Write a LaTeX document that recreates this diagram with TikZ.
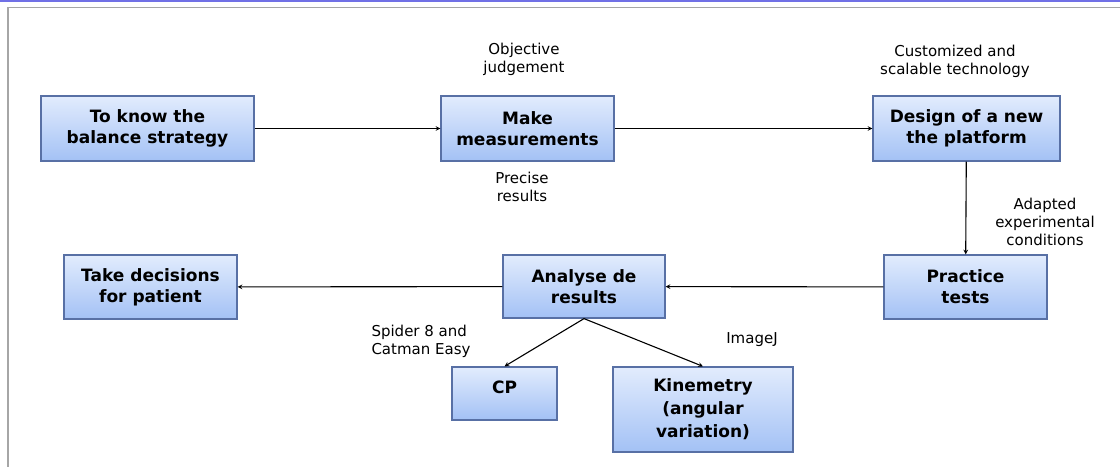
\documentclass[tikz,border=0pt]{standalone}
\usepackage{fontspec}
\setmainfont{DejaVu Sans}
\definecolor{boxtop}{RGB}{226,236,253}
\definecolor{boxbottom}{RGB}{163,193,245}
\definecolor{boxline}{RGB}{88,112,165}
\definecolor{topband}{RGB}{112,112,230}
\tikzset{
    blockbox/.style={draw=boxline, line width=1.2pt, top color=boxtop, bottom color=boxbottom,
        align=center, font=\fontsize{17}{21}\selectfont\bfseries, inner sep=2pt},
    notetext/.style={align=center, font=\fontsize{15}{18}\selectfont},
    flow/.style={->, >=stealth, line width=1.1pt}
}
\begin{document}
\begin{tikzpicture}[x=1pt, y=-1pt]
    \useasboundingbox (0,0) rectangle (1120,467);
    % Marco de la diapositiva
    \fill[topband] (0,0) rectangle (1120,2);
    \draw[gray!70, line width=1.2pt] (1120,7.5) -- (8,7.5) -- (8,467);

    % Fila superior
    \node[blockbox, minimum width=213pt, minimum height=65pt] (know) at (147.5,128.5) {To know the\\balance strategy};
    \node[blockbox, minimum width=173pt, minimum height=65pt] (measure) at (527.5,128.5) {Make\\measurements};
    \node[blockbox, minimum width=187pt, minimum height=65pt] (design) at (966.5,128.5) {Design of a new\\the platform};

    % Fila del medio
    \node[blockbox, minimum width=163pt, minimum height=64pt] (tests) at (965.5,287) {Practice\\tests};
    \node[blockbox, minimum width=162pt, minimum height=63pt] (analyse) at (584,286.5) {Analyse de\\results};
    \node[blockbox, minimum width=173pt, minimum height=64pt] (decide) at (150.5,287) {Take decisions\\for patient};

    % Fila inferior
    \node[blockbox, minimum width=105pt, minimum height=53pt, text depth=13pt] (cp) at (504.5,393.5) {CP};
    \node[blockbox, minimum width=180pt, minimum height=85pt, font=\fontsize{17}{23}\selectfont\bfseries] (kine) at (703,409.5) {Kinemetry\\(angular\\variation)};

    % Notas
    \node[notetext] (objective) at (524,59) {Objective\\judgement};
    \node[notetext] (precise) at (522,187) {Precise\\results};
    \node[notetext] (custom) at (955,61) {Customized and\\scalable technology};
    \node[notetext] (adapted) at (1045,222) {Adapted\\experimental\\conditions};
    \node[notetext, align=left] (spider) at (421,341) {Spider 8 and\\Catman Easy};
    \node[notetext] (imagej) at (752,340) {ImageJ};

    % Flechas
    \draw[flow] (know) -- (measure);
    \draw[flow] (measure) -- (design);
    \draw[flow] (design) -- (tests);
    \draw[flow] (tests) -- (analyse);
    \draw[flow] (analyse) -- (decide);
    \draw[flow] (analyse.south) -- (cp.north);
    \draw[flow] (analyse.south) -- (kine.north);
\end{tikzpicture}
\end{document}
